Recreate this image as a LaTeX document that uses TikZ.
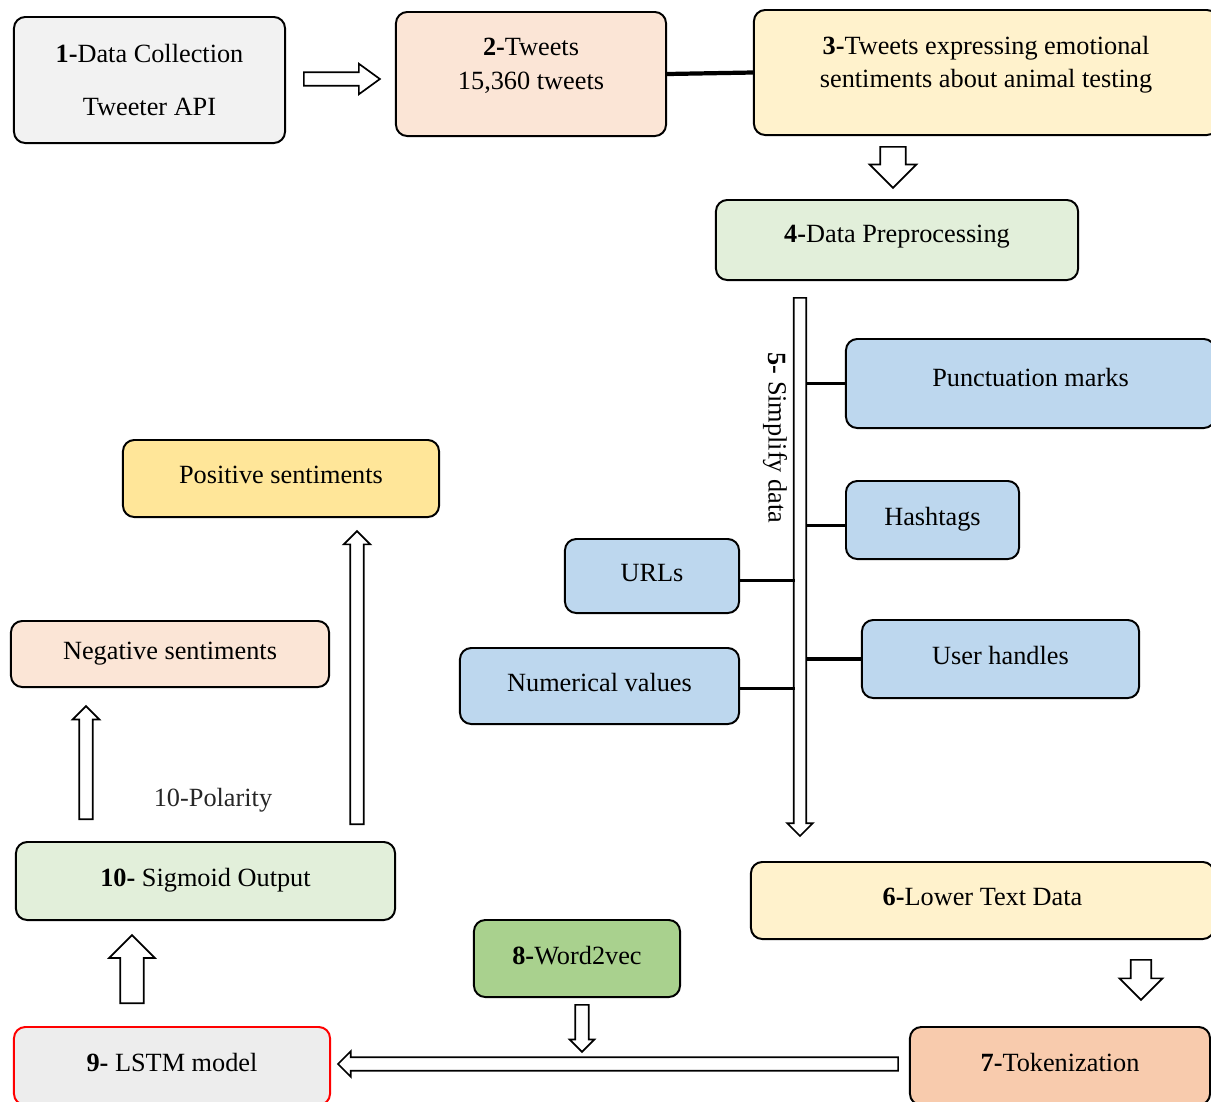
\documentclass[tikz,border=0pt]{standalone}
\usepackage{fontspec}
\setmainfont{Liberation Serif}
\usetikzlibrary{positioning, shapes.arrows, calc}

\definecolor{stepgray}{HTML}{F2F2F2}
\definecolor{steppeach}{HTML}{FBE5D6}
\definecolor{stepcream}{HTML}{FFF2CC}
\definecolor{stepmint}{HTML}{E2EFDA}
\definecolor{stepsky}{HTML}{BDD7EE}
\definecolor{stepgold}{HTML}{FFE699}
\definecolor{stepleaf}{HTML}{A9D18E}
\definecolor{stepapricot}{HTML}{F8CBAD}
\definecolor{steplight}{HTML}{EDEDED}

\begin{document}
\begin{tikzpicture}
	[x=0.025cm, y=-0.025cm,
	 font=\fontsize{18.7}{23.5}\selectfont,
	 box/.style={draw, line width=1.4pt, rounded corners=8pt, inner sep=0pt, align=center},
	 lift/.style={text depth=#1},
	 barrow/.style 2 args={single arrow, draw, fill=white, line width=1.2pt, anchor=tail,
	   inner sep=#1, single arrow head extend=#2, minimum width=0pt},
	 branch/.style={line width=2.2pt}]
   \useasboundingbox (0,0) rectangle (1211,1101);
   \clip (0,0) rectangle (1211,1101);

   % top row
   \node[box, fill=stepgray, minimum width=6.775cm, minimum height=3.15cm] (s_1) at (149.5,80)
     {\textbf{1-}Data Collection\\[14pt]Tweeter API};
   \node[box, fill=steppeach, minimum width=6.75cm, minimum height=3.1cm] (s_2) at (531,74)
     {\textbf{2-}Tweets\\15,360 tweets\\[-9pt]~};
   \node[box, fill=stepcream, minimum width=11.6cm, minimum height=3.125cm] (s_3) at (986,72.5)
     {\textbf{3-}Tweets expressing emotional\\sentiments about animal testing\\[-9pt]~};
   \node[box, lift=0.85em, fill=stepmint, minimum width=9.05cm, minimum height=2cm] (s_4) at (897,240)
     {\textbf{4-}Data Preprocessing};

   % simplify step
   \node[box, lift=0.85em, fill=stepsky, minimum width=9.225cm, minimum height=2.225cm] (punct) at (1030.5,383.5) {Punctuation marks};
   \node[box, lift=0.5em, fill=stepsky, minimum width=4.325cm, minimum height=1.95cm] (hash) at (932.5,520) {Hashtags};
   \node[box, lift=0.5em, fill=stepsky, minimum width=4.35cm, minimum height=1.85cm] (urls) at (652,576) {URLs};
   \node[box, lift=0.5em, fill=stepsky, minimum width=6.925cm, minimum height=1.95cm] (users) at (1000.5,659) {User handles};
   \node[box, lift=0.5em, fill=stepsky, minimum width=6.975cm, minimum height=1.9cm] (nums) at (599.5,686) {Numerical values};
   \node[rotate=-90] (simplify) at (775,438) {\textbf{5-} Simplify data};

   % bottom part
   \node[box, lift=0.5em, fill=stepcream, minimum width=11.575cm, minimum height=1.925cm] (s_6) at (982.5,900.5) {\textbf{6-}Lower Text Data};
   \node[box, lift=0.5em, fill=stepapricot, minimum width=7.5cm, minimum height=1.95cm] (s_7) at (1060,1066) {\textbf{7-}Tokenization};
   \node[box, lift=0.5em, fill=stepleaf, minimum width=5.15cm, minimum height=1.925cm] (s_8) at (577,958.5) {\textbf{8-}Word2vec};
   \node[box, lift=0.5em, fill=steplight, draw=red, minimum width=7.9cm, minimum height=1.95cm] (s_9) at (172,1066) {\textbf{9-} LSTM model};
   \node[box, lift=0.5em, fill=stepmint, minimum width=9.475cm, minimum height=1.95cm] (s_10) at (205.5,881) {\textbf{10-} Sigmoid Output};
   \node[box, fill=steppeach, minimum width=7.95cm, minimum height=1.65cm] (neg) at (170,654) {Negative sentiments};
   \node[box, lift=0.5em, fill=stepgold, minimum width=7.9cm, minimum height=1.925cm] (pos) at (281,478.5) {Positive sentiments};
   \node[text=black!85] (polarity) at (213,800) {10-Polarity};

   % block arrows (placed by their tails)
   \node[barrow={4.25pt}{6pt}, minimum height=1.9cm, single arrow tip angle=72] (a_12)
     at ($(s_1.east)+(17,-1)$) {};
   \node[barrow={8.5pt}{7.5pt}, minimum height=1.025cm, rotate=-90] (a_34)
     at ($(s_4.north)+(-4,-53)$) {};
   \node[barrow={3.9pt}{4.6pt}, minimum height=13.45cm, rotate=-90] (a_5) at (800,297) {};
   \node[barrow={6.7pt}{8pt}, minimum height=1cm, rotate=-90] (a_67)
     at ($(s_7.north)+(81,-67)$) {};
   \node[barrow={4.25pt}{4.25pt}, minimum height=14cm, rotate=180] (a_79)
     at ($(s_7.west)+(-10,-2)$) {};
   \node[barrow={4.25pt}{3.9pt}, minimum height=1.175cm, rotate=-90] (a_89)
     at ($(s_8.south)+(5,6)$) {};
   \node[barrow={7.8pt}{7.8pt}, minimum height=1.7cm, rotate=90] (a_910)
     at ($(s_9.north)+(-40,-22)$) {};
   \node[barrow={4.25pt}{4.6pt}, minimum height=2.825cm, rotate=90] (a_neg) at (86,820) {};
   \node[barrow={4.25pt}{4.6pt}, minimum height=7.325cm, rotate=90] (a_pos) at (357,825) {};

   % connectors
   \coordinate (spine_r) at (807,0);
   \coordinate (spine_l) at (795,0);
   \draw[line width=3pt] (s_2.east) -- (s_3.west);
   \draw[branch] (punct.west) -- (punct.west -| spine_r);
   \draw[branch] ([yshift=-4]hash.west) -- ([yshift=-4]hash.west -| spine_r);
   \draw[branch] ([yshift=-3]urls.east) -- ([yshift=-3]urls.east -| spine_l);
   \draw[branch] (users.west) -- (users.west -| spine_r);
   \draw[branch] ([yshift=-2]nums.east) -- ([yshift=-2]nums.east -| spine_l);
\end{tikzpicture}
\end{document}
